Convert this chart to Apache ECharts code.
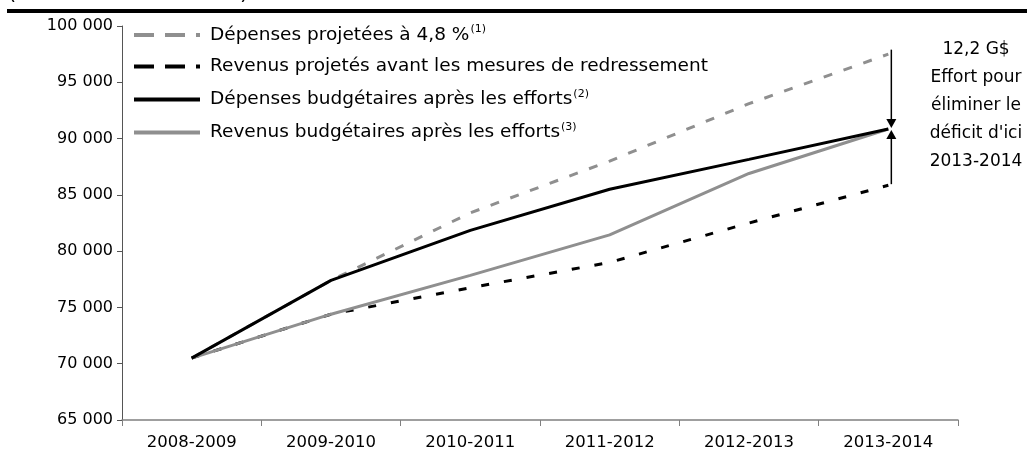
<!DOCTYPE html>
<html>
<head>
<meta charset="utf-8">
<script src="https://cdn.jsdelivr.net/npm/echarts@6/dist/echarts.min.js"></script>
<style>
html,body{margin:0;padding:0;background:#fff;}
#c{width:1027px;height:467px;}
</style>
</head>
<body>
<div id="c"></div>
<script>
// ---- data ----
var categories = ['2008-2009', '2009-2010', '2010-2011', '2011-2012', '2012-2013', '2013-2014'];
var depensesProjetees = [70500, 77400, 83400, 88000, 93100, 97500];
var revenusProjetes = [70500, 74400, 76750, 79000, 82500, 85850];
var depensesBudgetaires = [70500, 77400, 81850, 85500, 88150, 90850];
var revenusBudgetaires = [70500, 74400, 77850, 81450, 86900, 90850];
var seriesNames = ['Dépenses projetées à 4,8 %', 'Revenus projetés avant les mesures de redressement', 'Dépenses budgétaires après les efforts', 'Revenus budgétaires après les efforts'];
var seriesNotes = ['(1)', '', '(2)', '(3)'];
var yTicks = { min: 65000, max: 100000, interval: 5000 };
var titleText = '(en millions de dollars)';
var effortLines = ['12,2 G$', 'Effort pour', 'éliminer le', 'déficit d\'ici', '2013-2014'];
var effortValues = { top: 97900, mid: 90850, bottom: 85950 };

var FONT = '"DejaVu Sans", "Liberation Sans", Arial, sans-serif';
var chart = echarts.init(document.getElementById('c'), null, { renderer: 'canvas' });

function fmt(v) { return String(v).replace(/\B(?=(\d{3})+(?!\d))/g, ' '); }

var legendDash = [[20, 11], [20, 11], 'solid', 'solid'];
var colors = ['#8f8f8f', '#000000', '#000000', '#8f8f8f'];
var dashes = [[9, 12], [8, 15], 'solid', 'solid'];
var seriesData = [depensesProjetees, revenusProjetes, depensesBudgetaires, revenusBudgetaires];

var series = seriesData.map(function (d, i) {
  return {
    name: seriesNames[i],
    type: 'line',
    data: d,
    symbol: 'none',
    z: [1, 2, 4, 3][i],
    lineStyle: { color: colors[i], width: 3, type: dashes[i] },
    itemStyle: { color: colors[i] },
    emphasis: { disabled: true },
    animation: false
  };
});

var option = {
  animation: false,
  grid: { left: 122, right: 69, top: 26, bottom: 47, containLabel: false },
  legend: {
    orient: 'vertical',
    left: 127,
    top: 19,
    itemWidth: 66,
    itemHeight: 14,
    itemGap: 12.5,
    itemStyle: { opacity: 0 },
    data: seriesNames.map(function (n, i) {
      return { name: n, itemStyle: { opacity: 0 }, lineStyle: { type: legendDash[i], width: 4, color: colors[i] } };
    }),
    formatter: function (name) {
      var i = seriesNames.indexOf(name);
      return '{t|' + name + '}' + (seriesNotes[i] ? '{s|' + seriesNotes[i] + '}' : '');
    },
    textStyle: {
      fontFamily: FONT, fontSize: 18.5, color: '#000', padding: [0, 0, 0, 5],
      rich: {
        t: { fontFamily: FONT, fontSize: 18.5, color: '#000', lineHeight: 22 },
        s: { fontFamily: FONT, fontSize: 11, color: '#000', lineHeight: 12, verticalAlign: 'top', padding: [0, 0, 7, 1] }
      }
    },
    selectedMode: false
  },
  xAxis: {
    type: 'category',
    data: categories,
    boundaryGap: true,
    axisLine: { lineStyle: { color: '#808080', width: 1.5 } },
    axisTick: { show: true, length: 6, lineStyle: { color: '#808080' } },
    axisLabel: { fontFamily: FONT, fontSize: 16.5, color: '#000', margin: 14 },
    splitLine: { show: false }
  },
  yAxis: {
    type: 'value',
    min: yTicks.min, max: yTicks.max, interval: yTicks.interval,
    axisLine: { show: true, lineStyle: { color: '#555', width: 1 } },
    axisTick: { show: true, length: 5, lineStyle: { color: '#555' } },
    axisLabel: { fontFamily: FONT, fontSize: 16, color: '#000', margin: 9, formatter: fmt },
    splitLine: { show: false }
  },
  series: series
};
chart.setOption(option);

// annotations positioned through the chart's scales
var xEnd = chart.convertToPixel({ xAxisIndex: 0 }, categories.length - 1) + 3;
var yTop = chart.convertToPixel({ yAxisIndex: 0 }, effortValues.top);
var yMid = chart.convertToPixel({ yAxisIndex: 0 }, effortValues.mid);
var yBot = chart.convertToPixel({ yAxisIndex: 0 }, effortValues.bottom);

chart.setOption({
  graphic: [
    { type: 'text', left: 8, top: -17, z: 0, style: { text: titleText, font: '21px ' + FONT, fill: '#000' } },
    { type: 'rect', z: 1, shape: { x: 7, y: 9, width: 1020, height: 4 }, style: { fill: '#000' } },
    { type: 'line', shape: { x1: xEnd, y1: yTop, x2: xEnd, y2: yMid - 8 }, style: { stroke: '#000', lineWidth: 1.5 } },
    { type: 'polygon', shape: { points: [[xEnd - 5, yMid - 10], [xEnd + 5, yMid - 10], [xEnd, yMid - 1]] }, style: { fill: '#000' } },
    { type: 'line', shape: { x1: xEnd, y1: yMid + 8, x2: xEnd, y2: yBot }, style: { stroke: '#000', lineWidth: 1.5 } },
    { type: 'polygon', shape: { points: [[xEnd - 5, yMid + 10], [xEnd + 5, yMid + 10], [xEnd, yMid + 1]] }, style: { fill: '#000' } },
    { type: 'text', x: 976, y: 36, style: { text: effortLines.join('\n'), font: '17px ' + FONT, fill: '#000', align: 'center', lineHeight: 28 } }
  ]
});
</script>
</body>
</html>
